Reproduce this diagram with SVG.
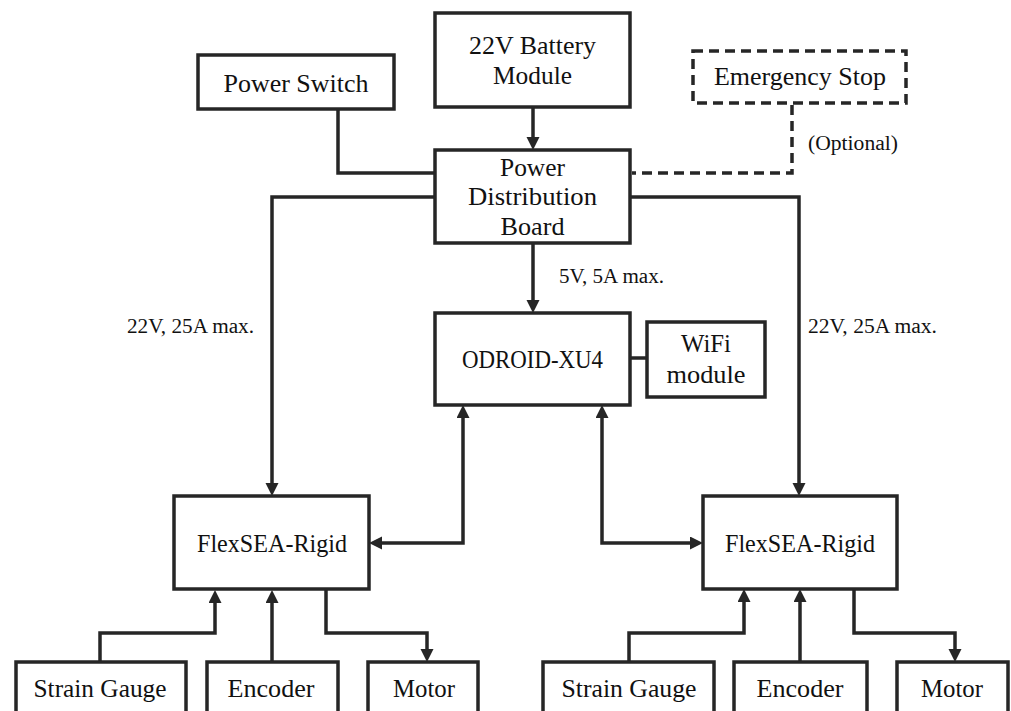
<svg xmlns="http://www.w3.org/2000/svg" width="1011" height="711" viewBox="0 0 1011 711">
<style>
.box{fill:#fff;stroke:#262626;stroke-width:3.5}
.dash{fill:#fff;stroke:#262626;stroke-width:3.5;stroke-dasharray:10 6}
.c{fill:none;stroke:#262626;stroke-width:3.5}
.cd{fill:none;stroke:#262626;stroke-width:3.5;stroke-dasharray:10 6}
text{font-family:"Liberation Serif","DejaVu Serif",serif;font-size:25px;fill:#111;text-anchor:middle}
.lab{font-size:20px;text-anchor:start}
</style>
<defs>
<marker id="ah" markerUnits="userSpaceOnUse" markerWidth="14" markerHeight="14" refX="9" refY="6.5" orient="auto-start-reverse">
<path d="M0,0 L13,6.5 L0,13 z" fill="#262626"/>
</marker>
</defs>
<rect width="1011" height="711" fill="#fff"/>
<g id="connectors">
<path class="c" d="M533,107 V146" marker-end="url(#ah)"/>
<path class="c" d="M338,109 V173 H435"/>
<path class="cd" d="M792,105 V173 H632"/>
<path class="c" d="M435,197 H272 V492" marker-end="url(#ah)"/>
<path class="c" d="M630,197 H799 V492" marker-end="url(#ah)"/>
<path class="c" d="M533,243 V309" marker-end="url(#ah)"/>
<path class="c" d="M630,358 H647"/>
<path class="c" d="M463,409 V543 H373" marker-start="url(#ah)" marker-end="url(#ah)"/>
<path class="c" d="M602,409 V543 H699" marker-start="url(#ah)" marker-end="url(#ah)"/>
<path class="c" d="M100,662 V633 H215 V594" marker-end="url(#ah)"/>
<path class="c" d="M272,662 V594" marker-end="url(#ah)"/>
<path class="c" d="M326,589 V633 H427 V658" marker-end="url(#ah)"/>
<path class="c" d="M629,662 V633 H744 V593" marker-end="url(#ah)"/>
<path class="c" d="M800,662 V593" marker-end="url(#ah)"/>
<path class="c" d="M854,589 V633 H955 V658" marker-end="url(#ah)"/>
<text class="lab" x="127" y="333" textLength="127" lengthAdjust="spacingAndGlyphs">22V, 25A max.</text>
<text class="lab" x="808" y="333" textLength="129" lengthAdjust="spacingAndGlyphs">22V, 25A max.</text>
<text class="lab" x="559" y="283" textLength="105" lengthAdjust="spacingAndGlyphs">5V, 5A max.</text>
<text class="lab" x="808" y="150" textLength="90" lengthAdjust="spacingAndGlyphs">(Optional)</text>
</g>
<g id="battery">
<rect class="box" x="435" y="13" width="195" height="94"/>
<text x="532.5" y="54" textLength="127" lengthAdjust="spacingAndGlyphs">22V Battery</text>
<text x="532.5" y="84" textLength="79" lengthAdjust="spacingAndGlyphs">Module</text>
</g>
<g id="power-switch">
<rect class="box" x="198" y="55" width="196" height="54"/>
<text x="296" y="92" textLength="145" lengthAdjust="spacingAndGlyphs">Power Switch</text>
</g>
<g id="emergency-stop">
<rect class="dash" x="693" y="51" width="213" height="52"/>
<text x="800" y="85" textLength="172" lengthAdjust="spacingAndGlyphs">Emergency Stop</text>
</g>
<g id="pdb">
<rect class="box" x="435" y="150" width="195" height="93"/>
<text x="532.5" y="176" textLength="65" lengthAdjust="spacingAndGlyphs">Power</text>
<text x="532.5" y="205" textLength="129" lengthAdjust="spacingAndGlyphs">Distribution</text>
<text x="532.5" y="235" textLength="64" lengthAdjust="spacingAndGlyphs">Board</text>
</g>
<g id="odroid">
<rect class="box" x="435" y="313" width="195" height="92"/>
<text x="532.5" y="368" textLength="141" lengthAdjust="spacingAndGlyphs">ODROID-XU4</text>
</g>
<g id="wifi">
<rect class="box" x="647" y="322" width="118" height="75"/>
<text x="706" y="352" textLength="50" lengthAdjust="spacingAndGlyphs">WiFi</text>
<text x="706" y="383" textLength="79" lengthAdjust="spacingAndGlyphs">module</text>
</g>
<g id="flexsea-left">
<rect class="box" x="174" y="496" width="195" height="93"/>
<text x="272" y="552" textLength="150" lengthAdjust="spacingAndGlyphs">FlexSEA-Rigid</text>
</g>
<g id="flexsea-right">
<rect class="box" x="703" y="496" width="194" height="93"/>
<text x="800" y="552" textLength="150" lengthAdjust="spacingAndGlyphs">FlexSEA-Rigid</text>
</g>
<g id="strain-left">
<rect class="box" x="16" y="662" width="170" height="70"/>
<text x="100" y="697" textLength="133" lengthAdjust="spacingAndGlyphs">Strain Gauge</text>
</g>
<g id="encoder-left">
<rect class="box" x="207" y="662" width="131" height="70"/>
<text x="271" y="697" textLength="87" lengthAdjust="spacingAndGlyphs">Encoder</text>
</g>
<g id="motor-left">
<rect class="box" x="368" y="662" width="110" height="70"/>
<text x="424" y="697" textLength="62" lengthAdjust="spacingAndGlyphs">Motor</text>
</g>
<g id="strain-right">
<rect class="box" x="543" y="662" width="171" height="70"/>
<text x="629" y="697" textLength="135" lengthAdjust="spacingAndGlyphs">Strain Gauge</text>
</g>
<g id="encoder-right">
<rect class="box" x="734" y="662" width="133" height="70"/>
<text x="800" y="697" textLength="87" lengthAdjust="spacingAndGlyphs">Encoder</text>
</g>
<g id="motor-right">
<rect class="box" x="897" y="662" width="111" height="70"/>
<text x="952" y="697" textLength="62" lengthAdjust="spacingAndGlyphs">Motor</text>
</g>
</svg>
